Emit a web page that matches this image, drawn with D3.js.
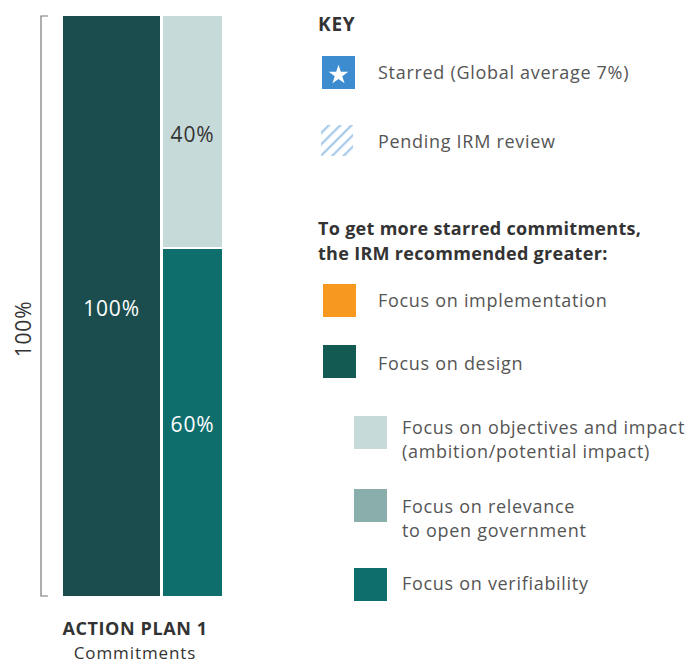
<!DOCTYPE html>
<html>
<head>
<meta charset="utf-8">
<script src="https://cdn.jsdelivr.net/npm/d3@7"></script>
<style>
body { margin: 0; background: #fff; }
svg text { font-family: "Open Sans", sans-serif; }
</style>
</head>
<body>
<div id="chart"></div>
<script>
// data
var categories = ["ACTION PLAN 1"];
var subLabels = ["Commitments"];
var designValues = [100];
var objectivesValues = [40];
var verifiabilityValues = [60];
var keyItems = ["Starred (Global average 7%)", "Pending IRM review"];
var recoItems = ["Focus on implementation", "Focus on design"];
var subItems = [
  ["Focus on objectives and impact", "(ambition/potential impact)"],
  ["Focus on relevance", "to open government"],
  ["Focus on verifiability"]
];

var colors = {
  starred: "#3d8ccf", pending: "#a9cbeb", implementation: "#f7991f",
  design: "#1b4d4f", designKey: "#125a52", objectives: "#c6dad9",
  relevance: "#8aaeac", verifiability: "#0e6e6c"
};

var svg = d3.select("#chart").append("svg")
  .attr("width", 690).attr("height", 664);

var y = d3.scaleLinear().domain([0, 100]).range([596, 16]);

// bracket
svg.append("path")
  .attr("d", "M48," + y(100) + "H41V" + y(0) + "H48")
  .attr("fill", "none").attr("stroke", "#777").attr("stroke-width", 1.2);

svg.append("text")
  .attr("transform", "translate(31,329) rotate(-90)")
  .attr("text-anchor", "middle")
  .attr("font-size", 21).attr("letter-spacing", 0.8).attr("fill", "#333")
  .text(d3.max(designValues) + "%");

var barLabel = function(sel) {
  return sel.attr("text-anchor", "middle").attr("font-size", 21)
    .attr("letter-spacing", 0.8);
};

// bar 1: design
svg.selectAll(".design").data(designValues).enter().append("rect")
  .attr("x", 63).attr("width", 97)
  .attr("y", function(d) { return y(d); })
  .attr("height", function(d) { return y(0) - y(d); })
  .attr("fill", colors.design);
barLabel(svg.selectAll(".designLbl").data(designValues).enter().append("text"))
  .attr("x", 111.5).attr("y", function(d) { return y(d / 2) + 10; })
  .attr("fill", "#fff")
  .text(function(d) { return d + "%"; });

// bar 2: verifiability (bottom) + objectives (top)
svg.selectAll(".verif").data(verifiabilityValues).enter().append("rect")
  .attr("x", 163).attr("width", 59)
  .attr("y", function(d) { return y(d) + 1; })
  .attr("height", function(d) { return y(0) - y(d) - 1; })
  .attr("fill", colors.verifiability);
barLabel(svg.selectAll(".verifLbl").data(verifiabilityValues).enter().append("text"))
  .attr("x", 192.5).attr("y", function(d) { return y(d / 2) + 10; })
  .attr("fill", "#fff")
  .text(function(d) { return d + "%"; });

svg.selectAll(".obj").data(objectivesValues).enter().append("rect")
  .attr("x", 163).attr("width", 59)
  .attr("y", function(d, i) { return y(verifiabilityValues[i] + d); })
  .attr("height", function(d, i) { return y(verifiabilityValues[i]) - y(verifiabilityValues[i] + d) - 1; })
  .attr("fill", colors.objectives);
barLabel(svg.selectAll(".objLbl").data(objectivesValues).enter().append("text"))
  .attr("x", 192.5).attr("y", function(d, i) { return y(verifiabilityValues[i] + d / 2) + 10; })
  .attr("fill", "#333")
  .text(function(d) { return d + "%"; });

// category labels
svg.append("text").attr("x", 135).attr("y", 635).attr("text-anchor", "middle")
  .attr("font-size", 18).attr("font-weight", "bold").attr("fill", "#333")
  .attr("letter-spacing", 0.6)
  .text(categories[0]);
svg.append("text").attr("x", 135).attr("y", 659).attr("text-anchor", "middle")
  .attr("font-size", 17).attr("fill", "#333").attr("letter-spacing", 0.9)
  .text(subLabels[0]);

// legend
var defs = svg.append("defs");
var pat = defs.append("pattern").attr("id", "hatch")
  .attr("patternUnits", "userSpaceOnUse").attr("width", 8).attr("height", 8)
  .attr("patternTransform", "rotate(45)");
pat.append("rect").attr("width", 2.3).attr("height", 8).attr("fill", colors.pending);

svg.append("text").attr("x", 318).attr("y", 31)
  .attr("font-size", 19).attr("font-weight", "bold").attr("fill", "#333")
  .attr("letter-spacing", 0.8).text("KEY");

var textStyle = function(sel) {
  return sel.attr("font-size", 18).attr("letter-spacing", 0.7).attr("fill", "#555");
};

// starred
svg.append("rect").attr("x", 322).attr("y", 56).attr("width", 33).attr("height", 33)
  .attr("fill", colors.starred);
svg.append("path")
  .attr("d", d3.symbol().type(d3.symbolStar).size(120)())
  .attr("transform", "translate(338.5,75)")
  .attr("fill", "#fff");
textStyle(svg.append("text").attr("x", 378).attr("y", 79)).text(keyItems[0]);

// pending
svg.append("rect").attr("x", 321).attr("y", 125).attr("width", 32).attr("height", 31)
  .attr("fill", "url(#hatch)");
textStyle(svg.append("text").attr("x", 378).attr("y", 148)).text(keyItems[1]);

svg.append("text").attr("x", 318).attr("y", 235)
  .attr("font-size", 18).attr("font-weight", "bold").attr("fill", "#333")
  .attr("letter-spacing", 0.3)
  .text("To get more starred commitments,");
svg.append("text").attr("x", 318).attr("y", 260)
  .attr("font-size", 18).attr("font-weight", "bold").attr("fill", "#333")
  .attr("letter-spacing", 0.3)
  .text("the IRM recommended greater:");

var recoColors = [colors.implementation, colors.designKey];
var recoY = [284, 345];
var recoBase = [307, 370];
recoItems.forEach(function(t, i) {
  svg.append("rect").attr("x", 323).attr("y", recoY[i]).attr("width", 33).attr("height", 33)
    .attr("fill", recoColors[i]);
  textStyle(svg.append("text").attr("x", 378).attr("y", recoBase[i])).text(t);
});

var subColors = [colors.objectives, colors.relevance, colors.verifiability];
var subY = [416, 489, 568];
var subBase = [434, 513, 590];
subItems.forEach(function(lines, i) {
  svg.append("rect").attr("x", 354).attr("y", subY[i]).attr("width", 33).attr("height", 33)
    .attr("fill", subColors[i]);
  lines.forEach(function(l, j) {
    textStyle(svg.append("text").attr("x", 402).attr("y", subBase[i] + j * 24)).text(l);
  });
});
</script>
</body>
</html>
